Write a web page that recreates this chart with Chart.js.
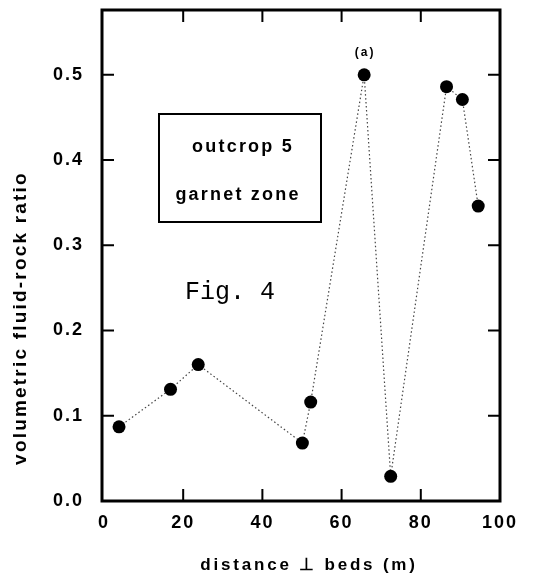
<!DOCTYPE html>
<html>
<head>
<meta charset="utf-8">
<script src="https://cdn.jsdelivr.net/npm/chart.js@4"></script>
<style>
  html, body { margin: 0; padding: 0; background: #fff; }
  canvas { display: block; }
</style>
</head>
<body>
<canvas id="fluidChart" width="552" height="580"></canvas>
<script>
// samples: distance perpendicular to beds (m) and volumetric fluid-rock ratio
const distances = [3.8, 16.8, 23.8, 50.1, 52.2, 65.7, 72.4, 86.5, 90.5, 94.5];
const ratios = [0.087, 0.131, 0.160, 0.068, 0.116, 0.500, 0.029, 0.486, 0.471, 0.346];
const xTicks = [0, 20, 40, 60, 80, 100];
const yTicks = [0.0, 0.1, 0.2, 0.3, 0.4, 0.5];
const xTitle = 'distance ⊥ beds (m)';
const yTitle = 'volumetric fluid-rock ratio';
const boxLines = ['outcrop 5', 'garnet zone'];
const figLabel = 'Fig. 4';
const markedIndex = 5; // the sample tagged (a)

const sans = '"Liberation Sans", Arial, sans-serif';

const points = distances.map((d, i) => ({ x: d, y: ratios[i] }));

// frame, inward ticks, axis titles and the annotations on top of the plot
const framePlugin = {
  id: 'frame',
  beforeDraw(chart) {
    chart.ctx.letterSpacing = '2px';
  },
  afterDraw(chart) {
    const { ctx, chartArea: a, scales: { x, y } } = chart;
    ctx.save();
    ctx.strokeStyle = '#000';
    ctx.fillStyle = '#000';
    ctx.lineWidth = 3;
    ctx.strokeRect(a.left, a.top, a.right - a.left, a.bottom - a.top);

    ctx.lineWidth = 2;
    const tl = 12;
    ctx.beginPath();
    xTicks.slice(1, -1).forEach(v => {
      const px = x.getPixelForValue(v);
      ctx.moveTo(px, a.bottom); ctx.lineTo(px, a.bottom - tl);
      ctx.moveTo(px, a.top); ctx.lineTo(px, a.top + tl);
    });
    yTicks.slice(1).forEach(v => {
      const py = y.getPixelForValue(v);
      ctx.moveTo(a.left, py); ctx.lineTo(a.left + tl, py);
      ctx.moveTo(a.right, py); ctx.lineTo(a.right - tl, py);
    });
    ctx.stroke();

    ctx.textAlign = 'center';
    ctx.textBaseline = 'middle';

    // axis titles
    ctx.font = 'bold 17px ' + sans;
    ctx.letterSpacing = '2.8px';
    ctx.fillText(xTitle, 309, 565);
    ctx.save();
    ctx.translate(21, 318);
    ctx.rotate(-Math.PI / 2);
    ctx.font = 'bold 19px ' + sans;
    ctx.letterSpacing = '2.2px';
    ctx.fillText(yTitle, 0, 0);
    ctx.restore();

    // legend-style box
    ctx.lineWidth = 2;
    ctx.strokeRect(159, 114, 162, 108);
    ctx.letterSpacing = '2.2px';
    ctx.font = 'bold 18px ' + sans;
    ctx.fillText(boxLines[0], 243, 147);
    ctx.fillText(boxLines[1], 238, 195);

    ctx.letterSpacing = '0px';
    ctx.font = '25px "Liberation Mono", "Courier New", monospace';
    ctx.fillText(figLabel, 230, 292);

    // tag above the marked sample
    const pt = chart.getDatasetMeta(0).data[markedIndex];
    ctx.font = 'bold 12px ' + sans;
    ctx.letterSpacing = '2px';
    ctx.fillText('(a)', pt.x + 1, pt.y - 22);
    ctx.restore();
  }
};

new Chart(document.getElementById('fluidChart'), {
  type: 'scatter',
  data: {
    datasets: [{
      data: points,
      showLine: true,
      borderColor: '#444',
      borderWidth: 1.2,
      borderDash: [1.5, 2.5],
      pointRadius: 6.5,
      pointBackgroundColor: '#000',
      pointBorderWidth: 0
    }]
  },
  options: {
    responsive: false,
    animation: false,
    layout: { padding: { top: 10, right: 52, left: 0, bottom: 0 } },
    plugins: { legend: { display: false }, tooltip: { enabled: false } },
    scales: {
      x: {
        type: 'linear',
        min: -0.5,
        max: 100,
        afterFit: s => { s.height = 79; s.paddingLeft = 0; s.paddingRight = 0; },
        afterBuildTicks: s => { s.ticks = xTicks.map(v => ({ value: v })); },
        grid: { display: false, drawTicks: false },
        border: { display: false },
        ticks: { padding: 11, color: '#000', font: { family: sans, size: 18, weight: 'bold' } }
      },
      y: {
        min: 0,
        max: 0.576,
        afterFit: s => { s.width = 102; s.paddingTop = 0; s.paddingBottom = 0; },
        afterBuildTicks: s => { s.ticks = yTicks.map(v => ({ value: v })); },
        grid: { display: false, drawTicks: false },
        border: { display: false },
        ticks: {
          padding: 18,
          color: '#000',
          font: { family: sans, size: 18, weight: 'bold' },
          callback: v => v.toFixed(1)
        }
      }
    }
  },
  plugins: [framePlugin]
});
</script>
</body>
</html>
